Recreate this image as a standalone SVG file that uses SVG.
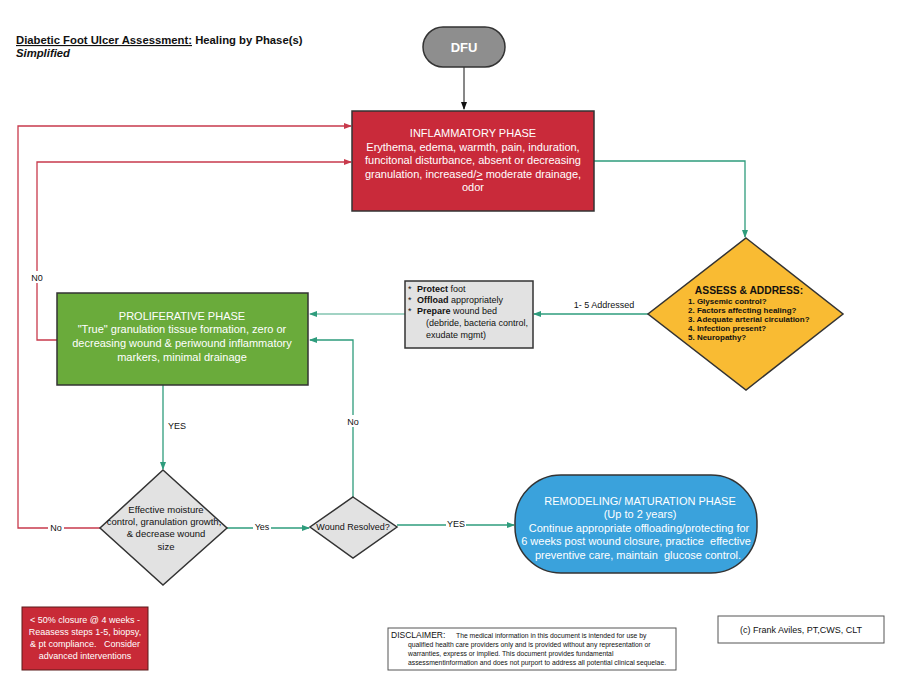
<svg xmlns="http://www.w3.org/2000/svg" width="900" height="696" viewBox="0 0 900 696">
<defs>
<style>
text{font-family:"Liberation Sans",Arial,sans-serif;}
.w{fill:#fff;font-size:11px;text-anchor:middle;}
.ws{fill:#fff;font-size:9px;text-anchor:middle;}
.k{fill:#111;font-size:9px;}
.red{stroke:#c83a4c;stroke-width:1.3;fill:none;}
.grn{stroke:#2e9c7c;stroke-width:1.3;fill:none;}
.blk{stroke:#111;stroke-width:1;fill:none;}
.node{stroke:#333;stroke-width:1.5;}
</style>
<marker id="ar" markerWidth="8" markerHeight="8" refX="7" refY="4" orient="auto" markerUnits="userSpaceOnUse"><path d="M0,1 L8,4 L0,7 Z" fill="#c83a4c"/></marker>
<marker id="ag" markerWidth="8" markerHeight="8" refX="7" refY="4" orient="auto" markerUnits="userSpaceOnUse"><path d="M0,1 L8,4 L0,7 Z" fill="#2e9c7c"/></marker>
<marker id="ak" markerWidth="8" markerHeight="8" refX="7" refY="4" orient="auto" markerUnits="userSpaceOnUse"><path d="M0,1 L8,4 L0,7 Z" fill="#111"/></marker>
</defs>
<rect width="900" height="696" fill="#fff"/>
<g id="title">
<text x="16" y="44" font-size="11.3" font-weight="bold" fill="#111"><tspan text-decoration="underline">Diabetic Foot Ulcer Assessment:</tspan> Healing by Phase(s)</text>
<text x="16" y="57" font-size="11.3" font-weight="bold" font-style="italic" fill="#111">Simplified</text>
</g>
<g id="connectors">
<path class="blk" d="M464,67 V109" marker-end="url(#ak)"/>
<path class="red" d="M100,528 H18 V126 H351" marker-end="url(#ar)"/>
<path class="red" d="M57,340 H37 V162 H351" marker-end="url(#ar)"/>
<path class="grn" d="M594,161 H745 V237" marker-end="url(#ag)"/>
<path class="grn" d="M648,314 H534" marker-end="url(#ag)"/>
<path class="grn" d="M405,314 H310" marker-end="url(#ag)" stroke-opacity="0.6"/>
<path class="grn" d="M353,497 V340 H310" marker-end="url(#ag)"/>
<path class="grn" d="M163,385 V469" marker-end="url(#ag)"/>
<path class="grn" d="M227,528 H309" marker-end="url(#ag)"/>
<path class="grn" d="M397,525 H514" marker-end="url(#ag)"/>
<rect x="570" y="298" width="68" height="12" fill="#fff"/>
<text x="604" y="308" class="k" text-anchor="middle">1- 5 Addressed</text>
<rect x="29" y="271" width="16" height="12" fill="#fff"/>
<text x="37" y="281" class="k" text-anchor="middle">N0</text>
<rect x="168" y="419" width="18" height="12" fill="#fff"/>
<text x="177" y="429" class="k" text-anchor="middle">YES</text>
<rect x="345" y="415" width="16" height="12" fill="#fff"/>
<text x="353" y="425" class="k" text-anchor="middle">No</text>
<rect x="48" y="522" width="16" height="12" fill="#fff"/>
<text x="56" y="531" class="k" text-anchor="middle">No</text>
<rect x="253" y="521" width="18" height="12" fill="#fff"/>
<text x="262" y="530" class="k" text-anchor="middle">Yes</text>
<rect x="446" y="518" width="20" height="12" fill="#fff"/>
<text x="456" y="527" class="k" text-anchor="middle">YES</text>
</g>
<g id="dfu">
<rect x="423" y="27" width="82" height="40" rx="20" fill="#8e8e8e" class="node"/>
<text x="464" y="52" class="w" style="font-size:13px" font-weight="bold">DFU</text>
</g>
<g id="inflammatory">
<rect x="352" y="111" width="242" height="100" fill="#c92a3a" class="node"/>
<text class="w"><tspan x="473" y="137">INFLAMMATORY PHASE</tspan><tspan x="473" y="151">Erythema, edema, warmth, pain, induration,</tspan><tspan x="473" y="164">funcitonal disturbance, absent or decreasing</tspan><tspan x="473" y="178">granulation, increased/<tspan text-decoration="underline">&gt;</tspan> moderate drainage,</tspan><tspan x="473" y="191">odor</tspan></text>
</g>
<g id="assess">
<polygon points="746,238 843,314 746,390 648,314" fill="#f9bb33" class="node"/>
<text x="749" y="294" text-anchor="middle" font-size="10.3" font-weight="bold" fill="#111">ASSESS &amp; ADDRESS:</text>
<text font-size="8" font-weight="bold" fill="#111"><tspan x="688" y="304">1. Glysemic control?</tspan><tspan x="688" y="313">2. Factors affecting healing?</tspan><tspan x="688" y="322">3.  Adequate arterial circulation?</tspan><tspan x="688" y="331">4. Infection present?</tspan><tspan x="688" y="340">5. Neuropathy?</tspan></text>
</g>
<g id="care">
<rect x="405" y="281" width="128" height="67" fill="#e2e2e2" class="node"/>
<text class="k"><tspan x="408" y="292">*</tspan><tspan x="417" y="292" font-weight="bold">Protect</tspan><tspan> foot</tspan></text>
<text class="k"><tspan x="408" y="303">*</tspan><tspan x="417" y="303" font-weight="bold">Offload</tspan><tspan> appropriately</tspan></text>
<text class="k"><tspan x="408" y="314">*</tspan><tspan x="417" y="314" font-weight="bold">Prepare</tspan><tspan> wound bed</tspan></text>
<text class="k"><tspan x="426" y="326">(debride, bacteria control,</tspan><tspan x="426" y="338">exudate  mgmt)</tspan></text>
</g>
<g id="proliferative">
<rect x="57" y="293" width="251" height="92" fill="#6aab3b" class="node"/>
<text class="w"><tspan x="182" y="320">PROLIFERATIVE PHASE</tspan><tspan x="182" y="333">"True" granulation tissue formation, zero or</tspan><tspan x="182" y="347">decreasing wound &amp; periwound inflammatory</tspan><tspan x="182" y="361">markers, minimal drainage</tspan></text>
</g>
<g id="moisture">
<polygon points="163,470 227,528 163,585 100,528" fill="#e2e2e2" class="node"/>
<text class="k" style="font-size:9.5px" text-anchor="middle"><tspan x="166" y="513">Effective moisture</tspan><tspan x="164" y="525">control, granulation growth,</tspan><tspan x="166" y="537">&amp; decrease wound</tspan><tspan x="166" y="550">size</tspan></text>
</g>
<g id="resolved">
<polygon points="353,497 397,527 353,558 310,527" fill="#e2e2e2" class="node"/>
<text x="353" y="530" class="k" text-anchor="middle">Wound Resolved?</text>
</g>
<g id="remodeling">
<rect x="515" y="475" width="242" height="98" rx="46" fill="#3aa2dc" class="node"/>
<text class="w" xml:space="preserve"><tspan x="640" y="505">REMODELING/ MATURATION PHASE</tspan><tspan x="640" y="518">(Up to 2 years)</tspan><tspan x="639" y="532">Continue appropriate offloading/protecting for</tspan><tspan x="636" y="545">6 weeks post wound closure, practice  effective</tspan><tspan x="638" y="559">preventive care, maintain  glucose control.</tspan></text>
</g>
<g id="note">
<rect x="22" y="607" width="126" height="63" fill="#c82a37" stroke="#5a1a1a" stroke-width="1"/>
<text class="ws" xml:space="preserve"><tspan x="85" y="623">&lt; 50% closure @ 4 weeks -</tspan><tspan x="85" y="635">Reaasess steps 1-5, biopsy,</tspan><tspan x="85" y="647">&amp; pt compliance.   Consider</tspan><tspan x="85" y="659">advanced interventions</tspan></text>
</g>
<g id="disclaimer">
<rect x="388" y="628" width="288" height="42" fill="#fff" stroke="#555" stroke-width="1"/>
<text x="391" y="638" font-size="8.5" fill="#111">DISCLAIMER:</text>
<text font-size="6.8" fill="#111"><tspan x="456" y="638">The medical information in this document is intended for use by</tspan><tspan x="408" y="647">qualified health care providers only and is provided without any representation or</tspan><tspan x="408" y="656">warranties, express or implied. This document provides fundamental</tspan><tspan x="408" y="665">assessmentinformation and does not purport to address all potential clinical sequelae.</tspan></text>
</g>
<g id="copyright">
<rect x="718" y="616" width="166" height="27" fill="#fff" stroke="#555" stroke-width="1"/>
<text x="801" y="633" class="k" text-anchor="middle">(c) Frank Aviles, PT,CWS, CLT</text>
</g>
</svg>
